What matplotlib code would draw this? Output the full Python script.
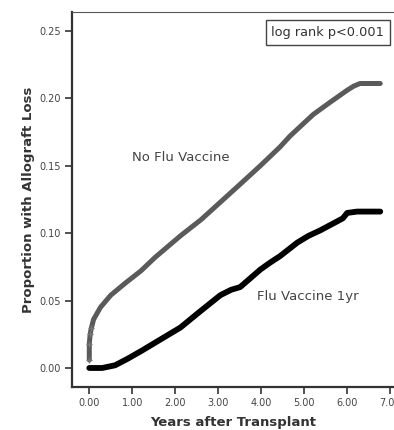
import matplotlib.pyplot as plt

# values
anos_sin = [0.0, 0.0, 0.02, 0.05, 0.1, 0.26, 0.5, 0.84, 1.2, 1.53, 2.12, 2.6, 3.05, 3.5,
            3.98, 4.44, 4.67, 5.21, 5.6, 6.0, 6.15, 6.3, 6.77]
perdida_sin = [0.006, 0.018, 0.025, 0.030, 0.036, 0.045, 0.054, 0.063, 0.072, 0.082, 0.098,
               0.110, 0.123, 0.136, 0.150, 0.164, 0.172, 0.188, 0.197, 0.206, 0.209, 0.211, 0.211]

anos_vac = [0.0, 0.3, 0.6, 0.9, 1.23, 1.7, 2.12, 2.58, 3.05, 3.3, 3.51, 3.98, 4.2, 4.44,
            4.84, 5.1, 5.37, 5.9, 6.0, 6.23, 6.77]
perdida_vac = [0.0, 0.0, 0.002, 0.007, 0.013, 0.022, 0.030, 0.042, 0.054, 0.058, 0.060, 0.073,
               0.078, 0.083, 0.093, 0.098, 0.102, 0.111, 0.115, 0.116, 0.116]

xticks = [0, 1, 2, 3, 4, 5, 6, 7]
yticks = [0.0, 0.05, 0.10, 0.15, 0.20, 0.25]

fig = plt.figure(figsize=(3.94, 4.30), dpi=100)
ax = fig.add_axes([0.183, 0.1, 0.817, 0.872])

ax.plot(anos_sin, perdida_sin, color='#5a5a5a', lw=3.6, solid_capstyle='round')
ax.plot(anos_sin[:4], perdida_sin[:4], '+', color='#777777', ms=5, mew=1)
ax.plot(anos_vac, perdida_vac, color='black', lw=4.2, solid_capstyle='round')

ax.set_xlim(-0.40, 7.09)
ax.set_ylim(-0.0141, 0.264)
ax.set_xticks(xticks)
ax.set_xticklabels([f'{t:.2f}' for t in xticks])
ax.set_yticks(yticks)
ax.set_yticklabels([f'{t:.2f}' for t in yticks])
ax.tick_params(labelsize=7, colors='#333333', length=5, width=1.2, labelcolor='#444444', pad=3)

for lado in ['left', 'bottom']:
    ax.spines[lado].set_linewidth(1.6)
    ax.spines[lado].set_color('#333333')
ax.spines['top'].set_linestyle((0, (1, 1)))
ax.spines['top'].set_color('#555555')
ax.spines['right'].set_visible(False)

ax.set_xlabel('Years after Transplant', fontsize=9.5, fontweight='bold', color='#333333', labelpad=6)
ax.set_ylabel('Proportion with Allograft Loss', fontsize=9.5, fontweight='bold', color='#333333', labelpad=3)

ax.text(2.12, 0.156, 'No Flu Vaccine', fontsize=9.5, color='#444444', ha='center', va='center')
ax.text(5.09, 0.053, 'Flu Vaccine 1yr', fontsize=9.5, color='#444444', ha='center', va='center')
ax.text(5.55, 0.249, 'log rank p<0.001', fontsize=9.3, color='#333333', ha='center', va='center',
        bbox=dict(boxstyle='square,pad=0.45', fc='white', ec='#444444', lw=1))

fig.savefig('out.png', dpi=100)
